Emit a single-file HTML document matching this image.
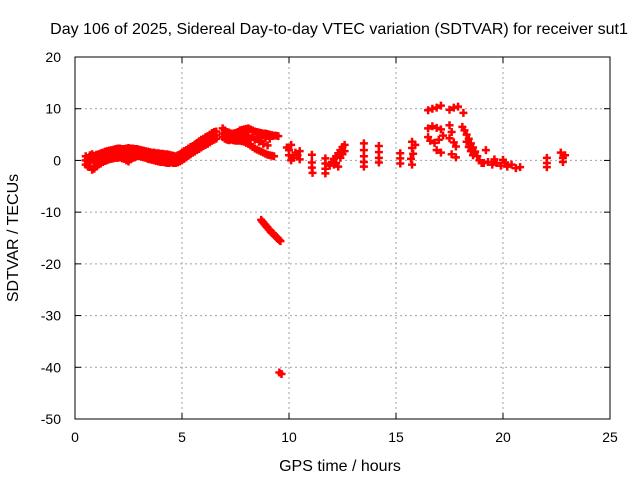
<!DOCTYPE html>
<html><head><meta charset="utf-8"><style>
html,body{margin:0;padding:0;background:#fff;}
svg{display:block;font-family:"Liberation Sans",sans-serif;}
</style></head><body>
<svg id="chart" width="640" height="480" viewBox="0 0 640 480">
<rect width="640" height="480" fill="#fff"/>
<text x="339" y="34" font-size="16" text-anchor="middle">Day 106 of 2025, Sidereal Day-to-day VTEC variation (SDTVAR) for receiver sut1</text>
<text x="340" y="471" font-size="16" text-anchor="middle">GPS time / hours</text>
<text x="18" y="238" font-size="16" text-anchor="middle" transform="rotate(-90 18 238)">SDTVAR / TECUs</text>
<g id="grid"></g>
<g id="axes"></g>
<g id="marks"></g>
<rect x="75" y="57" width="535" height="362" fill="none" stroke="#000" stroke-width="1"/>
</svg>
<script>
const xTicks = [0,5,10,15,20,25];
const yTicks = [20,10,0,-10,-20,-30,-40,-50];
const upperBand = [[0.5,0.8],[0.7,1],[0.9,0.9],[1.1,1.2],[1.3,1.5],[1.5,1.8],[1.7,2],[1.9,2.2],[2.1,2.3],[2.3,2.2],[2.5,2.4],[2.7,2.3],[2.9,2.2],[3.1,2.0],[3.3,1.8],[3.5,1.6],[3.7,1.5],[3.9,1.4],[4.1,1.3],[4.3,1.2],[4.5,1.0],[4.7,0.8],[4.9,1.2],[5.1,1.8],[5.3,2.3],[5.5,2.8],[5.7,3.4],[5.9,4],[6.1,4.5],[6.3,5],[6.5,5.5],[6.9,6.2],[7.1,5.5],[7.3,5.2],[7.5,5.3],[7.7,5.8],[7.9,6],[8.1,6.2],[8.3,5.8],[8.5,5.5],[8.7,5.3],[8.9,5.2],[9.1,5.0],[9.3,4.8],[9.5,4.7]];
const upperBandB = [[0.6,0.5],[0.8,1.2],[1.0,1.1],[1.2,1.4],[1.4,1.7],[1.6,1.9],[1.8,2.1],[2.0,2.3],[2.2,2.2],[2.4,2.3],[2.6,2.3],[2.8,2.2],[3.0,2.1],[3.2,1.9],[3.4,1.7],[3.6,1.5],[3.8,1.4],[4.0,1.3],[4.2,1.2],[4.4,1.1],[4.6,0.9],[4.8,1.0],[5.0,1.5],[5.2,2.0],[5.4,2.6],[5.6,3.1],[5.8,3.7],[6.0,4.2],[6.2,4.7],[6.4,5.3],[6.6,5.6],[7.0,5.8],[7.2,5.4],[7.4,5.2],[7.6,5.5],[7.8,5.9],[8.0,6.1],[8.2,6.0],[8.4,5.6],[8.6,5.4],[8.8,5.2],[9.0,5.1],[9.2,4.9],[9.4,4.8]];
const middleBand = [[0.5,0],[0.7,0.2],[0.9,-0.1],[1.1,0.3],[1.3,0.6],[1.5,0.9],[1.7,1.2],[1.9,1.3],[2.1,1.4],[2.3,1.2],[2.5,1.2],[2.7,1.4],[2.9,1.5],[3.1,1.3],[3.3,1.1],[3.5,0.9],[3.7,0.7],[3.9,0.6],[4.1,0.5],[4.3,0.4],[4.5,0.3],[4.7,0.2],[4.9,0.5],[5.1,1],[5.3,1.6],[5.5,2.1],[5.7,2.7],[5.9,3.2],[6.1,3.7],[6.3,4.2],[6.5,4.7],[6.9,5.2],[7.1,4.8],[7.3,4.6],[7.5,4.6],[7.7,4.8],[7.9,4.8],[8.1,4.7],[8.3,4.5],[8.5,4.4],[8.7,4.3],[8.9,4.3],[9.1,4.2]];
const middleBandB = [[0.6,-0.3],[0.8,0.1],[1.0,0.2],[1.2,0.5],[1.4,0.8],[1.6,1.0],[1.8,1.2],[2.0,1.4],[2.2,1.3],[2.4,1.1],[2.6,1.3],[2.8,1.5],[3.0,1.4],[3.2,1.2],[3.4,1.0],[3.6,0.8],[3.8,0.6],[4.0,0.5],[4.2,0.4],[4.4,0.3],[4.6,0.2],[4.8,0.3],[5.0,0.8],[5.2,1.3],[5.4,1.8],[5.6,2.4],[5.8,2.9],[6.0,3.4],[6.2,4.0],[6.4,4.5],[6.6,4.9],[7.0,5.0],[7.2,4.6],[7.4,4.5],[7.6,4.7],[7.8,4.8],[8.0,4.6],[8.2,4.3],[8.4,4.0],[8.6,3.6],[8.8,3.2],[9.0,2.9]];
const lowerBand = [[0.5,-0.8],[0.7,-1],[0.9,-1.6],[1.1,-0.8],[1.3,-0.3],[1.5,0],[1.7,0.3],[1.9,0.5],[2.1,0.6],[2.3,0.3],[2.5,-0.2],[2.7,0.5],[2.9,0.8],[3.1,0.7],[3.3,0.5],[3.5,0.2],[3.7,0],[3.9,-0.2],[4.1,-0.3],[4.3,-0.5],[4.5,-0.4],[4.7,-0.5],[4.9,-0.2],[5.1,0.3],[5.3,0.9],[5.5,1.5],[5.7,2],[5.9,2.5],[6.1,3],[6.3,3.5],[6.5,4],[6.9,4.5],[7.1,4],[7.3,4],[7.5,3.8],[7.7,3.8],[7.9,3.6],[8.1,3.2],[8.3,2.6],[8.5,2.1],[8.7,1.7],[8.9,1.3],[9.1,1],[9.3,0.8]];
const lowerBandB = [[0.6,-1.2],[0.8,-1.8],[1.0,-1.2],[1.2,-0.6],[1.4,-0.1],[1.6,0.2],[1.8,0.4],[2.0,0.5],[2.2,0.4],[2.4,0],[2.6,0.2],[2.8,0.6],[3.0,0.8],[3.2,0.6],[3.4,0.3],[3.6,0.1],[3.8,-0.1],[4.0,-0.3],[4.2,-0.4],[4.4,-0.5],[4.6,-0.5],[4.8,-0.4],[5.0,0],[5.2,0.6],[5.4,1.2],[5.6,1.7],[5.8,2.2],[6.0,2.8],[6.2,3.2],[6.4,3.8],[6.6,4.2],[7.0,4.2],[7.2,3.9],[7.4,3.9],[7.6,3.8],[7.8,3.7],[8.0,3.4],[8.2,2.9],[8.4,2.3],[8.6,1.9],[8.8,1.5],[9.0,1.1],[9.2,0.9]];
const dropTrack = [[8.7,-11.5],[8.75,-11.8],[8.8,-12],[8.85,-12.3],[8.9,-12.5],[8.95,-12.8],[9.0,-13],[9.05,-13.3],[9.1,-13.5],[9.15,-13.8],[9.2,-14],[9.25,-14.1],[9.3,-14.3],[9.35,-14.6],[9.4,-14.8],[9.45,-15],[9.5,-15.2],[9.55,-15.4],[9.6,-15.6],[9.55,-41],[9.65,-41.3]];
const midDay = [[9.9,2.5],[10,2],[10,1],[10.1,0],[10.2,0.5],[10.3,1.5],[10.4,1],[10.5,0.2],[10.5,1.8],[10.1,3],[11.07,1.1],[11.07,-0.4],[11.07,-1.4],[11.1,-2.4],[11.7,0.4],[11.7,-0.6],[11.7,-1.6],[11.7,-2.5],[11.9,-1],[12,-0.3],[12.1,0.3],[12.2,0.8],[12.3,1.4],[12.4,2],[12.5,2.6],[12.6,3],[12.2,-0.5],[12.4,0.5],[12.5,1.2],[12.3,-1.2],[12.1,-0.8],[12.6,1.8],[13.5,3.3],[13.5,2],[13.5,0.8],[13.5,-0.3],[13.5,-1.2],[14.2,2.8],[14.2,1.6],[14.2,0.5],[14.2,-0.4],[15.2,1.4],[15.2,0.4],[15.2,-0.6],[15.75,3.6],[15.75,2.4],[15.8,1.3],[15.7,0.3],[15.75,-0.8],[15.9,3]];
const lateDay = [[16.5,9.7],[16.7,10],[16.9,10.2],[17.1,10.6],[17.5,9.8],[17.7,10.2],[17.9,10.4],[18.15,9.2],[16.5,6.2],[16.7,6.6],[16.9,6.3],[17.1,6],[16.5,4.5],[16.6,3.8],[16.8,3.4],[17.0,4],[17.2,4.8],[16.9,2],[17.1,1.5],[17.5,6.8],[17.6,5.5],[17.5,4.3],[17.7,3.5],[17.8,2.7],[17.6,1.2],[17.8,0.6],[18.1,6.5],[18.2,5.8],[18.3,5],[18.4,4.2],[18.5,3.3],[18.6,2.5],[18.7,1.7],[18.8,0.8],[18.9,0],[19,-0.5],[18.3,3.6],[18.4,2.6],[18.5,1.8],[18.6,1],[19.2,2],[19.1,-0.5],[19.3,-0.3],[19.5,-0.8],[19.7,-0.5],[19.9,-1],[20.1,-0.4],[20.2,-1.2],[20.4,-0.8],[20.6,-1.5],[20.8,-1.3],[19.6,0.2],[20,0.1],[22.05,0.5],[22.05,-0.5],[22.05,-1.3],[22.7,1.5],[22.8,0.5],[22.9,1],[22.8,-0.3]];

const X0=75,X1=610,Y0=419,Y1=57;
function xs(h){return X0+(h-0)/(25-0)*(X1-X0);}
function ys(v){return Y0-(v-(-50))/(20-(-50))*(Y0-Y1);}
const NS='http://www.w3.org/2000/svg';
const grid=document.getElementById('grid'), axes=document.getElementById('axes'), marks=document.getElementById('marks');
function mk(tag,attrs,parent){const e=document.createElementNS(NS,tag);for(const k in attrs)e.setAttribute(k,attrs[k]);parent.appendChild(e);return e;}
xTicks.forEach(t=>{
  const x=xs(t);
  if(t>0&&t<25){const g=mk('line',{x1:x,x2:x,y1:Y1,y2:Y0,stroke:'#a0a0a0','stroke-dasharray':'2,3'},grid);
  
  }
  mk('line',{x1:x,x2:x,y1:Y0,y2:Y0-6,stroke:'#000'},axes);
  mk('line',{x1:x,x2:x,y1:Y1,y2:Y1+6,stroke:'#000'},axes);
  const l=mk('text',{x:x,y:442,'font-size':14,'text-anchor':'middle'},axes);l.textContent=t;
  
  
});
yTicks.forEach(t=>{
  const y=ys(t);
  if(t<20&&t>-50){const g=mk('line',{x1:X0,x2:X1,y1:y,y2:y,stroke:'#a0a0a0','stroke-dasharray':'2,3'},grid);
  
  }
  mk('line',{x1:X0,x2:X0+6,y1:y,y2:y,stroke:'#000'},axes);
  mk('line',{x1:X1,x2:X1-6,y1:y,y2:y,stroke:'#000'},axes);
  const l=mk('text',{x:61,y:y+5,'font-size':14,'text-anchor':'end'},axes);l.textContent=t;
  
  
});
[upperBand,upperBandB,middleBand,middleBandB,lowerBand,lowerBandB,dropTrack,midDay,lateDay].forEach(arr=>{
  arr.forEach(p=>{
    const x=xs(p[0]),y=ys(p[1]);
    const m=mk('path',{d:`M${x-4} ${y}H${x+4}M${x} ${y-4}V${y+4}`,stroke:'#ff0000','stroke-width':2.5},marks);
    
    
  });
});
</script>
</body></html>
